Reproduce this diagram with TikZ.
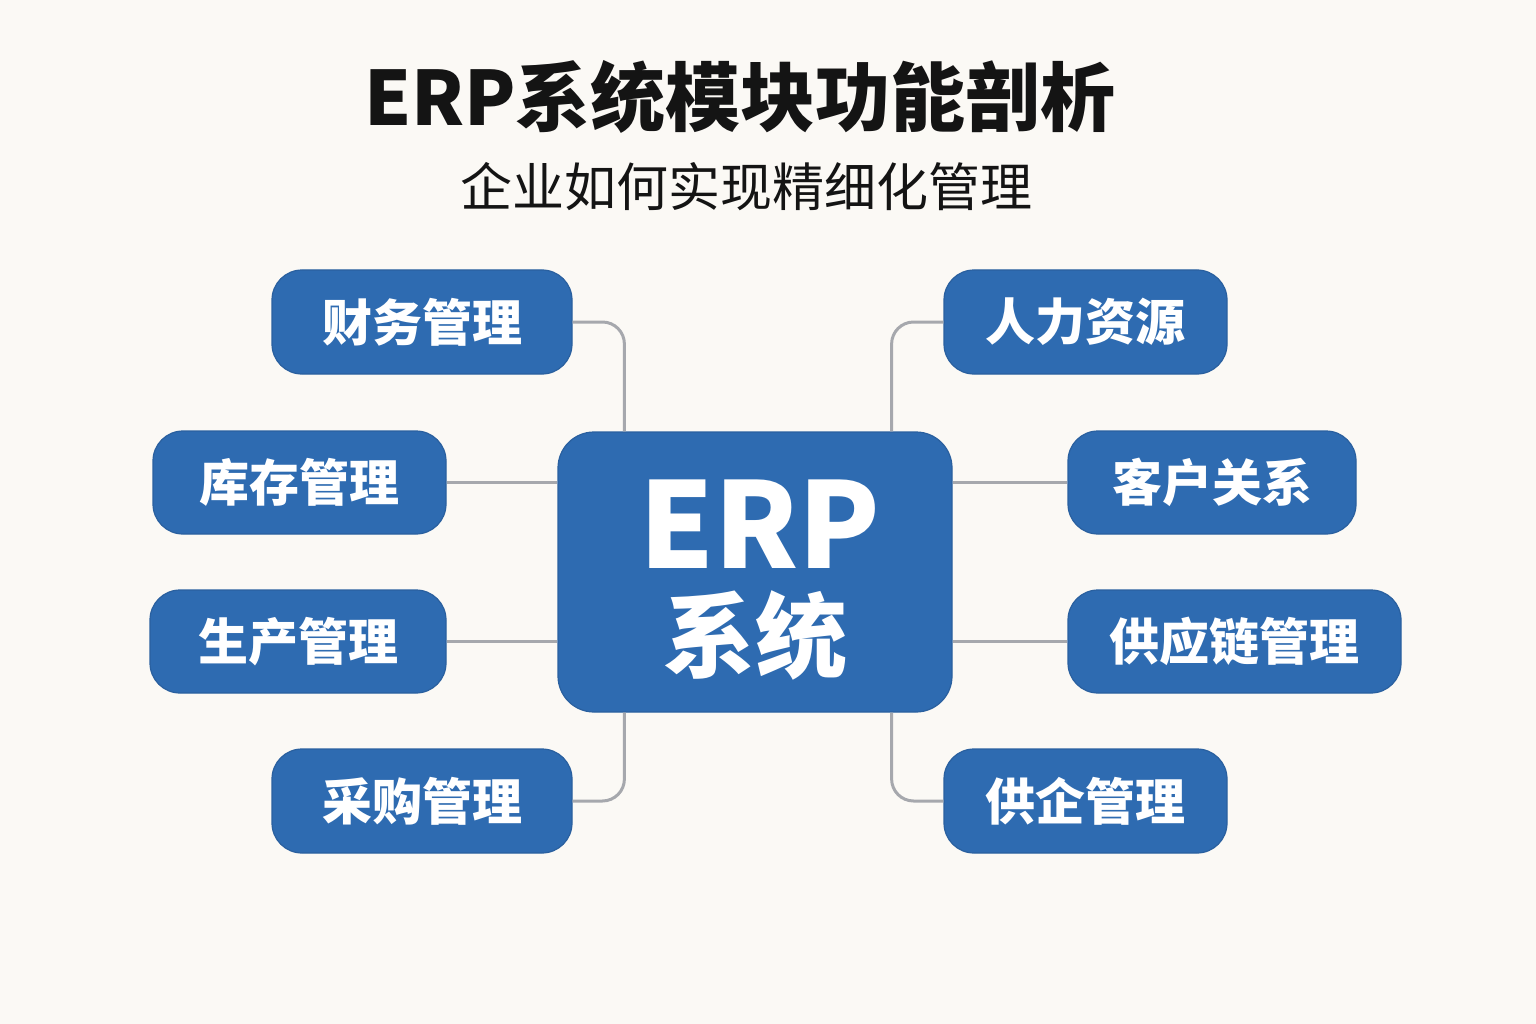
\documentclass[tikz,border=0pt]{standalone}
\usepackage{fontspec}
\setmainfont{Noto Sans CJK SC}
\usetikzlibrary{positioning}
\definecolor{bgc}{HTML}{FBF9F5}
\definecolor{boxblue}{HTML}{2E6BB1}
\definecolor{boxedge}{HTML}{2A609F}
\definecolor{conngray}{HTML}{A6A8AD}
\definecolor{titleblack}{HTML}{141414}
\tikzset{
  modbox/.style={draw=boxedge, line width=1.2pt, fill=boxblue, rounded corners=30pt,
    text=white, inner sep=0pt, font=\fontsize{50}{56}\selectfont\bfseries},
  centerbox/.style={draw=boxedge, line width=1.2pt, fill=boxblue, rounded corners=36pt,
    inner sep=0pt},
  conn/.style={draw=conngray, line width=3pt, rounded corners=22pt},
}
\begin{document}
\begin{tikzpicture}[x=1pt,y=-1pt]
\path[fill=bgc] (0,0) rectangle (1536,1024);
\useasboundingbox (0,0) rectangle (1536,1024);

\node[text=titleblack, font=\fontsize{75}{80}\selectfont\bfseries] (title) at (740,97) {ERP系统模块功能剖析};
\node[text=titleblack, font=\fontsize{52}{58}\selectfont] (subtitle) at (746,187) {企业如何实现精细化管理};

\node[centerbox, minimum width=394pt, minimum height=280pt] (c) at (755,572) {};
\node[text=white, font=\fontsize{119}{124}\selectfont\bfseries, inner sep=0pt] (cE) at (760,524) {ERP};
\node[text=white, font=\fontsize{92}{100}\selectfont\bfseries, inner sep=0pt] (cS) at (755,635) {系统};

\node[modbox, minimum width=300pt, minimum height=104pt] (b1) at (422,322) {财务管理};
\node[modbox, minimum width=293pt, minimum height=103pt] (b2) at (299.5,482.5) {库存管理};
\node[modbox, minimum width=296pt, minimum height=103pt] (b3) at (298,641.5) {生产管理};
\node[modbox, minimum width=300pt, minimum height=104pt] (b4) at (422,801) {采购管理};
\node[modbox, minimum width=283pt, minimum height=104pt] (b5) at (1085.5,322) {人力资源};
\node[modbox, minimum width=288pt, minimum height=103pt] (b6) at (1212,482.5) {客户关系};
\node[modbox, minimum width=333pt, minimum height=103pt] (b7) at (1234.5,641.5) {供应链管理};
\node[modbox, minimum width=283pt, minimum height=104pt] (b8) at (1085.5,801) {供企管理};

\draw[conn] (b1.east) -| ([xshift=67pt]c.north west);
\draw[conn] (b4.east) -| ([xshift=67pt]c.south west);
\draw[conn] (b5.west) -| ([xshift=-61pt]c.north east);
\draw[conn] (b8.west) -| ([xshift=-61pt]c.south east);
\draw[conn] (b2.east) -- (b2.east -| c.west);
\draw[conn] (b3.east) -- (b3.east -| c.west);
\draw[conn] (b6.west) -- (b6.west -| c.east);
\draw[conn] (b7.west) -- (b7.west -| c.east);
\end{tikzpicture}
\end{document}
